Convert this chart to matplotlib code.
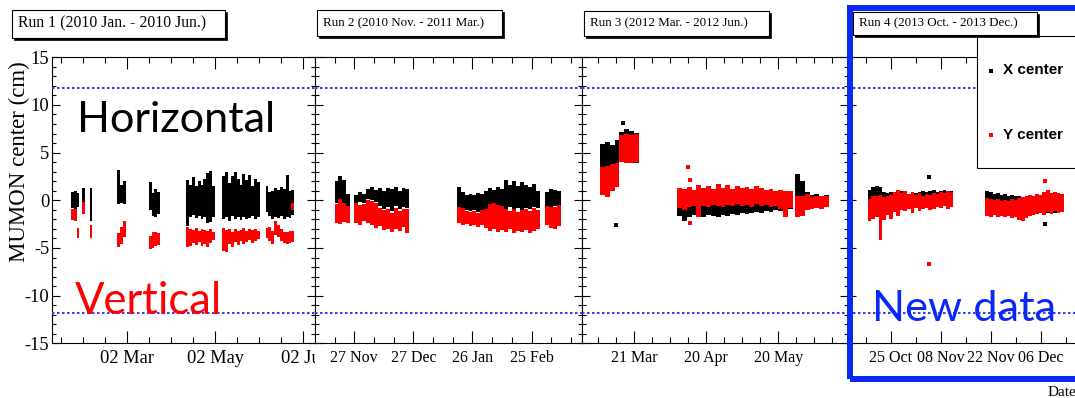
import datetime as dt
import numpy as np
import matplotlib
matplotlib.use("Agg")
import matplotlib.pyplot as plt
import matplotlib.dates as mdates
from matplotlib.patches import Rectangle
from matplotlib.lines import Line2D
from matplotlib.transforms import Bbox, TransformedBbox

plt.rcParams['font.family'] = 'Liberation Serif'
plt.rcParams['axes.unicode_minus'] = False

# ---- data: MUMON centre (cm), banded per bin: days relative to a reference date ----
# Run 1 (ref 02 Mar 2010)
p1_days = [-38, -36, -34, -30, -25, -6, -4, -2, 16, 18, 20, 22,
           42, 44, 46, 48, 50, 52, 54, 56, 58, 60,
           67, 69, 71, 73, 75, 77, 79, 81, 83, 85, 87, 89, 91,
           97, 99, 101, 103, 105, 107, 109, 111, 113, 115]
p1_x_lo = [-0.8, -0.9, -0.7, -0.15, -2.2, -0.4, -0.3, -0.4, -1.0, -1.6, -1.7, -1.4,
           -2.7, -1.8, -1.5, -1.9, -1.6, -2.0, -1.7, -2.4, -2.3, -1.8,
           -2.0, -1.8, -2.2, -1.6, -2.0, -1.8, -2.1, -1.7, -2.0, -1.9, -1.6, -2.0, -1.7,
           -1.2, -1.6, -2.0, -1.7, -1.9, -1.6, -2.0, -1.8, -1.9, -1.5]
p1_x_hi = [0.9, 1.0, 0.8, 1.3, 1.3, 3.2, 1.6, 2.0, 1.9, 0.8, 1.2, 0.9,
           2.1, 1.6, 2.4, 1.5, 2.0, 1.6, 2.2, 2.9, 3.1, 1.5,
           2.5, 3.0, 1.8, 2.6, 3.0, 2.2, 1.6, 2.8, 2.1, 2.7, 1.5, 2.2, 1.9,
           1.5, 0.9, 1.0, 1.3, 1.1, 1.4, 1.2, 2.7, 1.0, 1.1]
p1_y_lo = [-2.1, -2.2, -4.0, -1.4, -4.0, -4.9, -4.6, -3.8, -5.1, -5.0, -4.8, -4.7,
           -4.9, -4.8, -4.5, -4.7, -4.4, -4.8, -4.6, -4.9, -4.5, -4.2,
           -5.3, -5.4, -4.6, -4.9, -4.4, -4.7, -4.3, -4.6, -4.4, -4.2, -4.5, -4.3, -4.1,
           -4.0, -4.3, -4.6, -3.6, -3.9, -4.3, -4.5, -4.6, -4.5, -4.4]
p1_y_hi = [-0.9, -0.9, -2.9, -0.15, -2.6, -3.4, -2.8, -2.2, -3.7, -3.3, -3.3, -3.4,
           -2.8, -3.0, -3.1, -2.9, -3.2, -3.0, -3.1, -3.2, -3.0, -3.3,
           -2.9, -3.1, -3.0, -3.3, -3.0, -3.2, -3.1, -2.9, -3.2, -3.0, -3.1, -3.0, -3.2,
           -2.9, -2.8, -3.2, -2.2, -2.6, -3.0, -3.3, -3.3, -3.2, -3.2]
p1_y_extra_days = [115]
p1_y_extra_lo = [-1.0]
p1_y_extra_hi = [-0.3]

# Run 2 (ref 27 Nov 2010)
p2_days = [-9, -7, -5, -3, 1, 3, 5, 7, 9, 11, 13, 15, 17, 19, 21, 23, 25, 27,
           53, 55, 57, 59, 61, 63, 65, 67, 69, 71, 73, 75, 77, 79, 81, 83, 85, 87, 89, 91, 93,
           98, 100, 102, 104]
p2_x_lo = [-0.3, -0.2, -0.4, -0.7, -0.4, -0.2, -0.3, 0.1, 0.0, -0.2, -0.6, -0.9, -0.7, -1.1, -0.6, -0.9, -0.7, -0.8,
           -0.7, -0.8, -1.0, -1.1, -1.0, -1.2, -1.0, -0.9, -0.6, -0.5, -0.7, -0.8, -0.9, -0.7, -0.9, -0.8, -1.0, -0.8, -0.9, -0.7, -0.8,
           -0.6, -0.7, -0.6, -0.5]
p2_x_hi = [2.0, 2.5, 2.1, 0.7, 0.6, 0.9, 0.7, 1.2, 1.4, 1.1, 1.3, 1.0, 1.3, 1.2, 1.4, 1.0, 1.3, 1.2,
           1.4, 0.9, 0.6, 0.7, 0.6, 0.8, 0.7, 1.0, 1.3, 1.1, 1.4, 1.2, 2.1, 1.6, 2.0, 1.5, 1.9, 1.6, 1.4, 1.7, 1.0,
           0.9, 1.2, 1.1, 1.0]
p2_y_lo = [-2.4, -2.5, -2.3, -2.4, -2.4, -2.6, -2.2, -2.4, -2.6, -2.9, -2.7, -3.1, -3.0, -3.3, -3.0, -3.2, -2.8, -3.4,
           -2.4, -2.6, -2.5, -2.7, -2.6, -2.8, -2.6, -2.9, -3.2, -3.0, -3.3, -3.1, -3.3, -3.0, -3.4, -3.2, -3.3, -3.1, -3.4, -3.2, -3.0,
           -2.6, -2.9, -3.0, -2.7]
p2_y_hi = [-0.4, 0.1, -0.3, -0.65, -0.3, -0.5, -0.4, 0.0, -0.1, -0.3, -0.8, -1.0, -0.9, -1.3, -0.8, -1.1, -0.9, -0.9,
           -0.7, -0.8, -1.1, -1.2, -1.1, -1.3, -1.0, -0.9, -0.4, -0.3, -0.5, -0.6, -0.9, -1.1, -0.9, -1.2, -1.0, -0.9, -1.1, -0.8, -1.0,
           -0.6, -0.7, -0.7, -0.5]

# Run 3 (ref 21 Mar 2012)
p3_days = [-13, -11, -9, -7, -5, -3, -1, 1,
           19, 21, 23, 25, 27, 29, 31, 33, 35, 37, 39, 41, 43, 45, 47, 49, 51, 53, 55, 57, 59, 61, 63, 65,
           68, 70, 72, 74, 76, 78, 80]
p3_x_lo = [3.3, 3.4, 3.5, 3.6, 4.0, 4.0, 3.9, 3.9,
           -1.6, -2.2, -1.7, -1.5, -1.6, -1.7, -1.5, -1.6, -1.7, -1.5, -1.6, -1.4, -1.5, -1.3, -1.4, -1.3,
           -1.2, -1.3, -1.1, -1.2, -1.0, -1.1, -1.0, -0.9,
           -0.6, -0.8, -0.4, -0.8, -0.6, -0.8, -0.7]
p3_x_hi = [5.9, 6.1, 5.8, 6.3, 7.2, 7.5, 7.3, 7.1,
           1.0, 0.8, 0.9, 1.0, 0.8, 0.9, 1.0, 0.8, 0.9, 1.1, 0.9, 0.8, 1.0, 0.9, 1.2, 0.8,
           1.0, 0.9, 0.8, 1.0, 0.9, 0.9, 0.8, 0.8,
           2.8, 2.0, 0.9, 0.6, 0.7, 0.5, 0.6]
p3_y_lo = [0.6, 0.3, 1.0, 1.4, 4.0, 3.9, 3.9, 4.0,
           -0.8, -1.0, -0.7, -0.6, -1.7, -0.6, -0.7, -0.5, -0.6, -0.7, -0.5, -0.6, -0.4, -0.6, -0.5, -0.7,
           -0.4, -0.6, -0.5, -0.7, -0.6, -0.9, -1.7, -0.8,
           -1.7, -1.6, -1.0, -0.9, -0.8, -0.9, -0.7]
p3_y_hi = [3.5, 3.6, 3.8, 3.9, 6.8, 7.0, 6.8, 7.0,
           1.3, 1.2, 1.4, 1.1, 1.6, 1.3, 1.5, 1.2, 1.7, 1.3, 1.6, 1.2, 1.5, 1.3, 1.4, 1.2,
           1.5, 1.3, 1.1, 1.2, 1.0, 1.1, 1.0, 1.0,
           0.5, 0.4, 0.7, 0.3, 0.5, 0.4, 0.4]
p3_x_out_days = [-4.7, -7.3]
p3_x_out_vals = [8.1, -2.6]
p3_y_out_days = [22.6, 23.3, 23.3]
p3_y_out_vals = [3.5, 2.1, -2.4]

# Run 4 (ref 25 Oct 2013)
p4_days = [-6, -5, -4, -3, -2, -1, 0, 1, 2, 3, 4, 5, 6, 7, 8, 9, 10, 11, 12, 13, 14, 15, 16, 17,
           27, 28, 29, 30, 31, 32, 33, 34, 35, 36, 37, 38, 39, 40, 41, 42, 43, 44, 45, 46, 47, 48]
p4_x_lo = [-0.8, -0.6, -0.5, -0.5, -0.6, -0.5, -0.8, -0.4, -0.7, -0.5, -0.4, -0.6, -0.5, -0.4, -0.7, -0.5,
           -0.3, -0.4, -0.5, -0.3, -0.4, -0.5, -0.3, -0.4,
           -0.8, -0.7, -0.8, -0.9, -0.7, -0.9, -0.8, -0.9, -0.8, -0.9, -1.0, -0.9, -1.0, -1.1, -1.0, -1.2,
           -1.1, -1.3, -1.2, -1.3, -1.2, -1.1]
p4_x_hi = [1.1, 1.4, 1.5, 1.4, 0.9, 0.8, 0.9, 0.7, 0.9, 1.0, 0.8, 0.7, 0.9, 0.8, 0.9, 1.0,
           0.9, 1.0, 1.1, 0.9, 1.0, 1.1, 0.9, 1.0,
           1.0, 0.9, 0.7, 0.8, 0.6, 0.7, 0.5, 0.6, 0.4, 0.5, 0.3, 0.2, 0.3, 0.2, 0.3, 0.4,
           0.3, 0.4, 0.5, 0.4, 0.5, 0.4]
p4_y_lo = [-2.2, -2.0, -1.8, -4.2, -2.1, -1.5, -2.0, -1.2, -1.6, -1.0, -1.1, -0.9, -1.3, -0.8, -1.1, -0.9,
           -0.8, -1.0, -0.9, -0.7, -0.8, -0.6, -0.9, -0.7,
           -1.6, -1.7, -1.5, -1.8, -1.6, -1.7, -1.6, -1.9, -1.8, -2.1, -2.2, -1.9, -1.6, -1.5, -1.4, -1.3,
           -1.5, -1.2, -1.4, -1.1, -1.3, -1.2]
p4_y_hi = [0.1, 0.5, 0.4, 0.6, 0.3, 0.5, 0.6, 0.9, 1.1, 0.8, 1.0, 0.7, 0.9, 0.6, 0.8, 0.5,
           0.7, 0.6, 0.8, 0.7, 0.9, 0.8, 1.0, 0.9,
           0.2, 0.1, 0.0, 0.1, -0.1, 0.0, -0.1, 0.1, 0.0, 0.2, 0.3, 0.4, 0.6, 0.5, 0.7, 0.6,
           0.9, 1.1, 0.8, 0.9, 0.8, 0.7]
p4_x_out_days = [10.7, 43.2]
p4_x_out_vals = [2.4, -2.5]
p4_y_out_days = [10.7, 43.2]
p4_y_out_vals = [-6.7, 2.0]

run_titles = ["Run 1 (2010 Jan. - 2010 Jun.)", "Run 2 (2010 Nov. - 2011 Mar.)",
              "Run 3 (2012 Mar. - 2012 Jun.)", "Run 4 (2013 Oct. - 2013 Dec.)"]
band_limit = 11.8

# ---- figure layout in pixels ----
W, H = 1075, 398
fig = plt.figure(figsize=(W / 100, H / 100), dpi=100)


def fx(x):
    return x / W


def fy(y):
    return 1 - y / H


y_top, y_bot = 57.3, 343.3
panel_px = [(52, 315), (315, 581.7), (581.7, 848), (848, 1114)]
refs = [dt.date(2010, 3, 2), dt.date(2010, 11, 27), dt.date(2012, 3, 21), dt.date(2013, 10, 25)]
limits = [(-52.0, 130.3), (-19.9, 115.4), (-21.7, 89.0), (-12.07, 62.6)]
majors = [[0, 61, 122], [0, 30, 60, 90], [0, 30, 60], [0, 14, 28, 42]]
minor_step = [15.25, 10, 7.5, 7]
widths = [2, 2, 2, 1]
label_size = [13.3, 11.5, 11.5, 11.5]

series = [
    (p1_days, p1_x_lo, p1_x_hi, p1_y_lo, p1_y_hi),
    (p2_days, p2_x_lo, p2_x_hi, p2_y_lo, p2_y_hi),
    (p3_days, p3_x_lo, p3_x_hi, p3_y_lo, p3_y_hi),
    (p4_days, p4_x_lo, p4_x_hi, p4_y_lo, p4_y_hi),
]

axes = []
for i, (x0, x1) in enumerate(panel_px):
    ax = fig.add_axes([fx(x0), fy(y_bot), (x1 - x0) / W, (y_bot - y_top) / H])
    axes.append(ax)
    base = mdates.date2num(refs[i])
    days, xlo, xhi, ylo, yhi = [np.array(v, dtype=float) for v in series[i]]
    ax.bar(base + days, xhi - xlo, bottom=xlo, width=widths[i], color='black', linewidth=0, zorder=2)
    ax.bar(base + days, yhi - ylo, bottom=ylo, width=widths[i], color='red', linewidth=0, zorder=3)

    ax.axhline(band_limit, color='#3c3cf0', ls=(0, (1.2, 1.2)), lw=1.5, zorder=4)
    ax.axhline(-band_limit, color='#3c3cf0', ls=(0, (1.2, 1.2)), lw=1.5, zorder=4)

    ax.set_xlim(base + limits[i][0], base + limits[i][1])
    ax.set_ylim(-15, 15)
    ax.set_xticks([base + m for m in majors[i]])
    mins = np.arange(-40, 40) * minor_step[i]
    mins = [base + m for m in mins if limits[i][0] < m < limits[i][1]
            and min(abs(m - mm) for mm in majors[i]) > 0.5]
    ax.set_xticks(mins, minor=True)
    ax.xaxis.set_major_formatter(mdates.DateFormatter('%d %b'))
    ax.set_yticks([-15, -10, -5, 0, 5, 10, 15])
    ax.set_yticks(np.arange(-15, 16, 1), minor=True)
    ax.tick_params(axis='x', which='major', direction='in', top=True, length=8.6, width=0.8,
                   labelsize=label_size[i], pad=5)
    ax.tick_params(axis='x', which='minor', direction='in', top=True, length=4.3, width=0.8)
    ax.tick_params(axis='y', which='major', direction='in', right=True, length=6, width=0.8,
                   labelsize=13.3, pad=2, labelleft=(i == 0))
    ax.tick_params(axis='y', which='minor', direction='in', right=True, length=3, width=0.8)
    for s in ax.spines.values():
        s.set_linewidth(0.8)

# extra pieces and isolated points
b1 = mdates.date2num(refs[0])
axes[0].bar(b1 + np.array(p1_y_extra_days), np.array(p1_y_extra_hi) - np.array(p1_y_extra_lo),
            bottom=p1_y_extra_lo, width=2, color='red', linewidth=0, zorder=3)
b3 = mdates.date2num(refs[2])
axes[2].plot(b3 + np.array(p3_x_out_days), p3_x_out_vals, 's', color='black', ms=2.2, mew=0, zorder=3)
axes[2].plot(b3 + np.array(p3_y_out_days), p3_y_out_vals, 's', color='red', ms=2.2, mew=0, zorder=3)
b4 = mdates.date2num(refs[3])
axes[3].plot(b4 + np.array(p4_x_out_days), p4_x_out_vals, 's', color='black', ms=2.2, mew=0, zorder=3)
axes[3].plot(b4 + np.array(p4_y_out_days), p4_y_out_vals, 's', color='red', ms=2.2, mew=0, zorder=3)

# first pad's last label is cut by the next pad
clip = TransformedBbox(Bbox([[0, 0], [fx(315), 1]]), fig.transFigure)
for lab in axes[0].get_xticklabels():
    lab.set_clip_box(clip)
    lab.set_clip_on(True)


def rect_px(x0, y0, x1, y1, **kw):
    r = Rectangle((fx(x0), fy(y1)), (x1 - x0) / W, (y1 - y0) / H, transform=fig.transFigure, **kw)
    fig.add_artist(r)
    return r


# legend box
rect_px(977, 36, 1110, 168, facecolor='white', edgecolor='black', lw=0.8, zorder=2)
fig.add_artist(Line2D([fx(991)], [fy(70.5)], marker='s', ms=2.4, color='black', mew=0,
                      transform=fig.transFigure, zorder=3))
fig.add_artist(Line2D([fx(991)], [fy(135)], marker='s', ms=2.4, color='red', mew=0,
                      transform=fig.transFigure, zorder=3))
fig.text(fx(1003), fy(70.5), "X center", family='Liberation Sans', weight='bold', size=11,
         va='center', ha='left', zorder=3)
fig.text(fx(1003), fy(135), "Y center", family='Liberation Sans', weight='bold', size=11,
         va='center', ha='left', zorder=3)

# blue highlight frame around the new run
rect_px(850, 7.5, 1120, 378.5, facecolor='none', edgecolor='#0a28f5', lw=4.3, zorder=2.5)

# run title boxes with shadow
boxes = [(12, 10, 225, 37.5), (317, 10, 502, 36), (584, 10.5, 769, 36), (853, 12, 1037, 35)]
title_size = [11.3, 9.4, 9.4, 9.4]
for (x0, y0, x1, y1), title, ts in zip(boxes, run_titles, title_size):
    rect_px(x0 + 2, y0 + 2, x1 + 2, y1 + 2, facecolor='black', edgecolor='black', lw=0.5, zorder=3)
    rect_px(x0, y0, x1, y1, facecolor='white', edgecolor='black', lw=0.8, zorder=3.1)
    fig.text(fx(x0 + 6), fy((y0 + y1) / 2), title, size=ts, va='center', ha='left', zorder=3.2)

fig.text(fx(19), fy(162), "MUMON center (cm)", rotation=90, size=16.5, va='center', ha='center')
fig.text(fx(1048), fy(396), "Date", size=11, va='baseline', ha='left')

renderer = fig.canvas.get_renderer()


def fit_text(s, x0, x1, base, color):
    t = fig.text(fx(x0), fy(base), s, fontsize=30, family='Lato', color=color,
                 va='baseline', ha='left', zorder=10)
    w = t.get_window_extent(renderer).width
    t.set_fontsize(30 * (x1 - x0) / w)
    return t


fit_text("Horizontal", 77, 275, 132, 'black')
fit_text("Vertical", 75, 222, 313.5, 'red')
fit_text("New data", 872, 1056, 321, '#0a28f5')

fig.savefig("out.png", dpi=100)
